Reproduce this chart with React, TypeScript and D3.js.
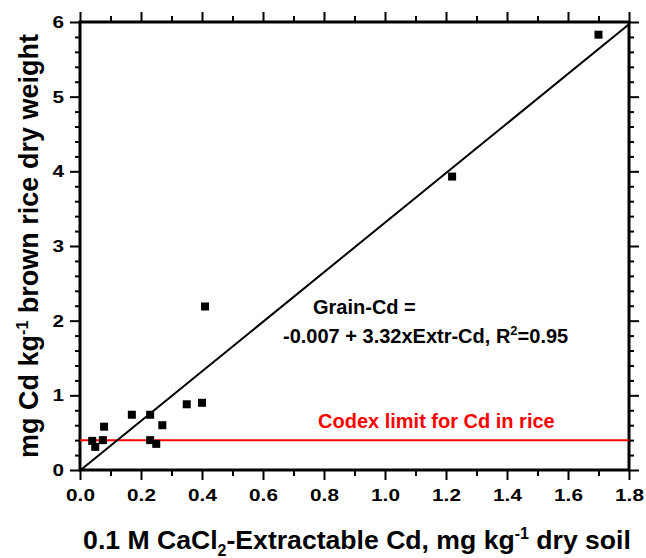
import React, { useEffect, useRef } from 'react'
import { axisBottom, axisLeft, axisRight, axisTop, range, scaleLinear, select } from 'd3'

// extractable Cd (x) vs grain Cd (y)
const extrCd = [0.04, 0.05, 0.075, 0.079, 0.17, 0.23, 0.23, 0.25, 0.27, 0.35, 0.40, 0.41, 1.22, 1.70]
const grainCd = [0.39, 0.31, 0.40, 0.58, 0.74, 0.74, 0.40, 0.35, 0.60, 0.88, 0.90, 2.19, 3.93, 5.83]

const xTicks = [0, 0.2, 0.4, 0.6, 0.8, 1.0, 1.2, 1.4, 1.6, 1.8]
const yTicks = [0, 1, 2, 3, 4, 5, 6]
const fitIntercept = -0.007
const fitSlope = 3.32
const codexLimit = 0.4

const FONT = "'Liberation Sans', Arial, sans-serif"

const App = () => {
  const ref = useRef<SVGSVGElement>(null)

  useEffect(() => {
    main()
  }, [])

  const main = () => {
    const svg = select(ref.current)
    svg.selectAll('*').remove()

    const left = 80,
      right = 629,
      top = 22,
      bottom = 470

    const x = scaleLinear().domain([0, 1.8]).range([left, right])
    const y = scaleLinear().domain([0, 6]).range([bottom, top])

    const xMinor = range(0, 19).map((i) => i / 10).filter((v, i) => i % 2 === 1)
    const yMinor = range(0, 31).map((i) => i / 5).filter((v, i) => i % 5 !== 0)

    svg.append('defs').append('clipPath').attr('id', 'plotclip')
      .append('rect').attr('x', left).attr('y', top).attr('width', right - left).attr('height', bottom - top)

    const addAxis = (axis, transform) => {
      const g = svg.append('g').attr('transform', transform).call(axis)
      g.select('.domain').remove()
      g.selectAll('line').attr('stroke', '#000').attr('stroke-width', 2)
      g.selectAll('text')
        .attr('font-family', FONT)
        .attr('font-weight', 'bold')
        .attr('font-size', 17)
        .attr('fill', '#000')
        .attr('transform', 'scale(1.22,1)')
      return g
    }

    const fmtX = (d) => d.toFixed(1)
    addAxis(axisBottom(x).tickValues(xTicks).tickSize(10).tickPadding(9).tickFormat(fmtX), `translate(0,${bottom})`)
    addAxis(axisBottom(x).tickValues(xMinor).tickSize(6).tickFormat(() => ''), `translate(0,${bottom})`)
    addAxis(axisTop(x).tickValues(xTicks).tickSize(10).tickFormat(() => ''), `translate(0,${top})`)
    addAxis(axisTop(x).tickValues(xMinor).tickSize(6).tickFormat(() => ''), `translate(0,${top})`)
    addAxis(axisLeft(y).tickValues(yTicks).tickSize(10).tickPadding(3).tickFormat((d) => String(d)), `translate(${left},0)`)
    addAxis(axisLeft(y).tickValues(yMinor).tickSize(5).tickFormat(() => ''), `translate(${left},0)`)
    addAxis(axisRight(y).tickValues(yTicks).tickSize(10).tickFormat(() => ''), `translate(${right},0)`)
    addAxis(axisRight(y).tickValues(yMinor).tickSize(5).tickFormat(() => ''), `translate(${right},0)`)

    // frame
    svg.append('rect')
      .attr('x', left).attr('y', top)
      .attr('width', right - left).attr('height', bottom - top)
      .attr('fill', 'none').attr('stroke', '#000').attr('stroke-width', 3)

    const plot = svg.append('g').attr('clip-path', 'url(#plotclip)')

    // codex limit
    plot.append('line')
      .attr('x1', x(0)).attr('x2', x(1.8))
      .attr('y1', y(codexLimit)).attr('y2', y(codexLimit))
      .attr('stroke', '#ff0000').attr('stroke-width', 2)

    // regression line
    plot.append('line')
      .attr('x1', x(0)).attr('y1', y(fitIntercept))
      .attr('x2', x(1.8)).attr('y2', y(fitIntercept + fitSlope * 1.8))
      .attr('stroke', '#000').attr('stroke-width', 2)

    // points
    svg.selectAll('.pt')
      .data(extrCd.map((v, i) => [v, grainCd[i]]))
      .enter()
      .append('rect')
      .attr('class', 'pt')
      .attr('x', (d) => x(d[0]) - 4)
      .attr('y', (d) => y(d[1]) - 4)
      .attr('width', 8)
      .attr('height', 8)
      .attr('fill', '#000')

    const txt = (px, py, size, color = '#000') =>
      svg.append('text')
        .attr('x', px).attr('y', py)
        .attr('font-family', FONT).attr('font-weight', 'bold')
        .attr('font-size', size).attr('fill', color)

    txt(313, 314, 20).text('Grain-Cd =')
    const eq = txt(283, 343, 20)
    eq.append('tspan').text('-0.007 + 3.32xExtr-Cd, R')
    eq.append('tspan').attr('dy', -8).attr('font-size', 13).text('2')
    eq.append('tspan').attr('dy', 8).text('=0.95')

    txt(318, 428, 20, '#ff0000').text('Codex limit for Cd in rice')

    // x title
    const xt = txt(357, 549, 26.6).attr('text-anchor', 'middle')
    xt.append('tspan').text('0.1 M CaCl')
    xt.append('tspan').attr('dy', 7).attr('font-size', 16).text('2')
    xt.append('tspan').attr('dy', -7).text('-Extractable Cd, mg kg')
    xt.append('tspan').attr('dy', -10).attr('font-size', 16).text('-1')
    xt.append('tspan').attr('dy', 10).text(' dry soil')

    // y title
    const yt = txt(0, 0, 27).attr('text-anchor', 'middle').attr('transform', `translate(38,${(top + bottom) / 2}) rotate(-90)`)
    yt.append('tspan').text('mg Cd kg')
    yt.append('tspan').attr('dy', -10).attr('font-size', 16).text('-1')
    yt.append('tspan').attr('dy', 10).text(' brown rice dry weight')
  }

  return (
    <svg
      ref={ref}
      width={646}
      height={558}
      style={{ position: 'absolute', left: 0, top: 0, background: '#fff' }}
    ></svg>
  )
}

export default App
